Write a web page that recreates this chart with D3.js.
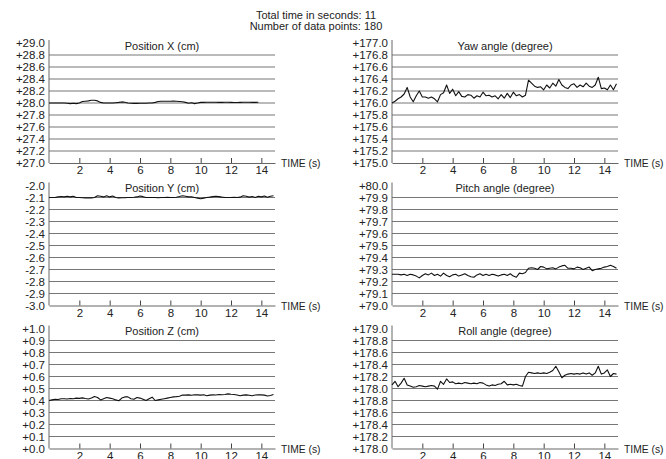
<!DOCTYPE html>
<html>
<head>
<meta charset="utf-8">
<script src="https://cdn.jsdelivr.net/npm/d3@7"></script>
<style>
  body { margin: 0; background: #fff; }
  text { font-family: "Liberation Sans", Arial, sans-serif; fill: #222; }
</style>
</head>
<body>
<svg id="chart" width="666" height="459"></svg>
<script>
// header text
var headerLines = ["Total time in seconds: 11", "Number of data points: 180"];

// samples are 0.2 s apart, starting at t = 0
var sampleStep = 0.2;
var timeTicks = [2, 4, 6, 8, 10, 12, 14];

var posX = [28.00,28.00,28.00,28.00,28.00,28.00,27.995,27.99,27.995,27.99,28.00,
  28.025,28.03,28.035,28.045,28.045,28.035,28.01,
  28.00,28.00,28.00,28.00,28.005,28.01,28.018,28.012,
  28.00,27.995,27.993,27.993,27.995,27.995,27.997,28.00,28.00,28.01,
  28.025,28.03,28.028,28.03,28.03,28.032,28.03,28.025,28.02,28.01,
  27.995,28.005,27.99,28.00,28.01,
  28.01,28.012,28.012,28.013,28.012,28.01,28.01,28.012,28.012,28.01,28.008,28.008,28.01,28.012,28.012,28.013,28.01,28.01,28.012];

var posY = [-2.1,-2.1,-2.1,-2.095,-2.092,-2.095,-2.09,-2.095,-2.09,-2.1,-2.1,
  -2.102,-2.103,-2.103,-2.103,-2.1,-2.085,-2.09,-2.095,-2.085,-2.095,-2.088,-2.1,
  -2.103,-2.102,-2.102,-2.1,-2.1,-2.098,-2.095,-2.087,-2.093,-2.1,
  -2.1,-2.1,-2.1,-2.102,-2.1,-2.1,-2.098,-2.1,-2.1,-2.098,
  -2.092,-2.085,-2.09,-2.095,-2.095,-2.1,-2.105,-2.11,-2.105,-2.1,
  -2.097,-2.093,-2.09,-2.093,-2.097,-2.1,-2.1,-2.1,-2.098,-2.1,
  -2.097,-2.085,-2.09,-2.097,-2.092,-2.1,-2.09,-2.095,-2.088,-2.098,-2.09,-2.085];

var posZ = [0.40,0.405,0.41,0.408,0.414,0.415,0.412,0.416,0.415,0.42,0.418,
  0.422,0.416,0.412,0.42,0.433,0.425,0.405,0.415,0.425,0.42,0.415,0.405,
  0.398,0.42,0.43,0.43,0.415,0.41,0.425,0.42,0.41,0.40,
  0.415,0.428,0.40,0.405,0.41,0.415,0.42,0.425,0.43,0.432,
  0.436,0.445,0.445,0.447,0.444,0.448,0.447,0.445,0.448,0.44,
  0.445,0.447,0.446,0.45,0.448,0.45,0.455,0.452,0.45,0.446,
  0.44,0.445,0.447,0.444,0.44,0.446,0.448,0.447,0.445,0.438,0.442,0.45];

var yaw = [176.0,176.03,176.07,176.1,176.15,176.26,176.1,176.02,176.12,176.2,176.1,
  176.1,176.08,176.1,176.07,176.02,176.14,176.17,176.3,176.16,176.23,176.12,176.19,
  176.11,176.1,176.14,176.13,176.08,176.12,176.1,176.18,176.12,176.13,
  176.1,176.12,176.07,176.14,176.08,176.16,176.09,176.18,176.12,176.14,
  176.1,176.13,176.38,176.33,176.28,176.26,176.27,176.22,176.3,176.25,
  176.33,176.28,176.39,176.3,176.26,176.24,176.3,176.32,176.26,176.3,
  176.27,176.33,176.28,176.26,176.3,176.43,176.24,176.25,176.22,176.3,176.22,176.32];

var pitch = [79.26,79.26,79.26,79.255,79.26,79.25,79.26,79.255,79.245,79.23,79.25,
  79.265,79.255,79.27,79.25,79.26,79.245,79.27,79.25,79.24,79.255,79.26,79.245,
  79.255,79.265,79.25,79.24,79.235,79.255,79.265,79.25,79.26,79.25,
  79.26,79.255,79.245,79.255,79.26,79.25,79.265,79.245,79.235,79.27,
  79.265,79.275,79.31,79.315,79.31,79.30,79.325,79.32,79.305,79.31,
  79.315,79.305,79.32,79.33,79.335,79.31,79.31,79.305,79.32,79.315,
  79.30,79.31,79.32,79.29,79.30,79.305,79.31,79.32,79.325,79.335,79.325,79.31];

var roll = [178.06,178.12,178.03,178.09,178.17,178.06,178.04,178.02,178.03,178.05,178.04,
  178.03,178.04,178.05,178.04,177.99,178.12,178.07,178.16,178.1,178.11,178.08,178.09,
  178.08,178.1,178.09,178.08,178.09,178.08,178.1,178.09,178.06,178.04,
  178.06,178.05,178.07,178.08,178.12,178.06,178.07,178.06,178.07,178.05,
  178.04,178.2,178.27,178.26,178.25,178.26,178.25,178.26,178.25,178.27,
  178.3,178.37,178.28,178.18,178.22,178.24,178.25,178.24,178.25,178.24,
  178.26,178.24,178.26,178.22,178.26,178.37,178.24,178.26,178.31,178.2,178.25,178.24];

// printed y tick labels, top to bottom
var ticksX = ["+29.0","+28.8","+28.6","+28.4","+28.2","+28.0","+27.8","+27.6","+27.4","+27.2","+27.0"];
var ticksY = ["-2.0","-2.1","-2.2","-2.3","-2.4","-2.5","-2.6","-2.7","-2.8","-2.9","-3.0"];
var ticksZ = ["+1.0","+0.9","+0.8","+0.7","+0.6","+0.5","+0.4","+0.3","+0.2","+0.1","+0.0"];
var ticksYaw = ["+177.0","+176.8","+176.6","+176.4","+176.2","+176.0","+175.8","+175.6","+175.4","+175.2","+175.0"];
var ticksPitch = ["+80.0","+79.9","+79.8","+79.7","+79.6","+79.5","+79.4","+79.3","+79.2","+79.1","+79.0"];
var ticksRoll = ["+179.0","+178.8","+178.6","+178.4","+178.2","+178.0","+178.8","+178.6","+178.4","+178.2","+178.0"];

var panels = [
  { title: "Position X (cm)", values: posX, domain: [27, 29], ticks: ticksX, col: 0, row: 0 },
  { title: "Position Y (cm)", values: posY, domain: [-3, -2], ticks: ticksY, col: 0, row: 1 },
  { title: "Position Z (cm)", values: posZ, domain: [0, 1], ticks: ticksZ, col: 0, row: 2 },
  { title: "Yaw angle (degree)", values: yaw, domain: [175, 177], ticks: ticksYaw, col: 1, row: 0 },
  { title: "Pitch angle (degree)", values: pitch, domain: [79, 80], ticks: ticksPitch, col: 1, row: 1 },
  { title: "Roll angle (degree)", values: roll, domain: [177, 179], ticks: ticksRoll, col: 1, row: 2 }
];

var colLeft = [49, 392];
var rowTop = [43, 185.5, 328.5];
var plotW = 226, plotH = 120;
var gridColor = "#666";

var svg = d3.select("#chart");

svg.selectAll(".header")
  .data(headerLines)
  .enter()
  .append("text")
    .attr("x", 316)
    .attr("y", function(d, i) { return 19 + i * 11; })
    .attr("text-anchor", "middle")
    .style("font-size", "11px")
    .text(function(d) { return d; });

var x = d3.scaleLinear().domain([0, 14.9]).range([0, plotW]);

panels.forEach(function(p) {
  var g = svg.append("g")
      .attr("transform", "translate(" + colLeft[p.col] + "," + rowTop[p.row] + ")");

  var y = d3.scaleLinear().domain(p.domain).range([plotH, 0]);
  var tickVals = d3.range(11).map(function(i) {
    return p.domain[1] - i * (p.domain[1] - p.domain[0]) / 10;
  });

  // horizontal grid lines (no line at the top)
  g.selectAll(".grid")
    .data(tickVals.slice(1, 10))
    .enter()
    .append("line")
      .attr("x1", 0).attr("x2", plotW)
      .attr("y1", function(d) { return y(d); })
      .attr("y2", function(d) { return y(d); })
      .attr("stroke", gridColor)
      .attr("stroke-width", 0.9);

  // y labels
  var yAxis = d3.axisLeft(y)
      .tickValues(tickVals)
      .tickSize(0)
      .tickPadding(4)
      .tickFormat(function(d, i) { return p.ticks[i]; });
  var ya = g.append("g").call(yAxis);
  ya.select(".domain").remove();
  ya.selectAll("text")
      .style("font-size", "11.5px")
      .style("font-family", "'Liberation Sans', Arial, sans-serif")
      .attr("fill", "#222");

  // vertical axis line
  g.append("line")
    .attr("x1", 0).attr("x2", 0)
    .attr("y1", -3).attr("y2", plotH)
    .attr("stroke", gridColor)
    .attr("stroke-width", 1);

  // time axis
  var xAxis = d3.axisBottom(x)
      .tickValues(timeTicks)
      .tickSizeInner(-5)
      .tickSizeOuter(0)
      .tickPadding(3);
  var xa = g.append("g")
      .attr("transform", "translate(0," + plotH + ")")
      .call(xAxis);
  xa.select(".domain")
      .attr("stroke", gridColor);
  xa.selectAll(".tick line").attr("stroke", "#444");
  xa.selectAll("text")
      .style("font-size", "11.5px")
      .style("font-family", "'Liberation Sans', Arial, sans-serif")
      .attr("fill", "#222");

  g.append("text")
    .attr("x", plotW + 6)
    .attr("y", plotH + 4)
    .style("font-size", "10.3px")
    .text("TIME (s)");

  g.append("text")
    .attr("x", plotW / 2)
    .attr("y", 6.5)
    .attr("text-anchor", "middle")
    .style("font-size", "11px")
    .text(p.title);

  var line = d3.line()
      .x(function(d, i) { return x(i * sampleStep); })
      .y(function(d) { return y(d); });

  g.append("path")
    .datum(p.values)
    .attr("d", line)
    .attr("fill", "none")
    .attr("stroke", "#111")
    .attr("stroke-width", 1.1)
    .attr("stroke-linejoin", "round");
});
</script>
</body>
</html>
